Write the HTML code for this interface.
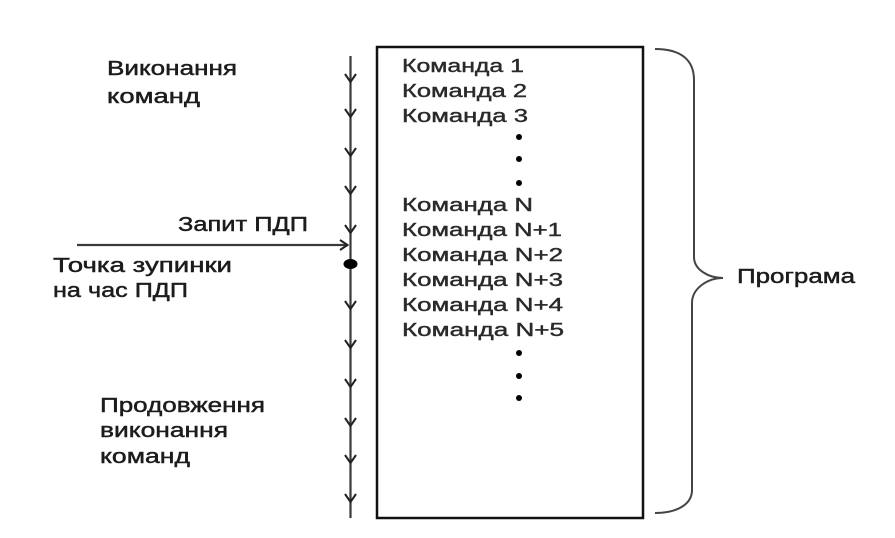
<!DOCTYPE html>
<html>
<head>
<meta charset="utf-8">
<style>
  html, body { margin: 0; padding: 0; background: #fff; }
  svg { display: block; }
  .lbl { font-family: "Liberation Sans", "DejaVu Sans", sans-serif; font-size: 20px; fill: #1c1c1c; stroke: #1c1c1c; stroke-width: 0.45; }
  .cmd { font-family: "Liberation Sans", "DejaVu Sans", sans-serif; font-size: 18px; fill: #2a2a2a; stroke: #2a2a2a; stroke-width: 0.4; }
</style>
</head>
<body>
<svg width="895" height="538" viewBox="0 0 895 538" xmlns="http://www.w3.org/2000/svg">
  <rect x="0" y="0" width="895" height="538" fill="#fff"/>

  <!-- vertical execution line -->
  <line x1="350.5" y1="56" x2="350.5" y2="518" stroke="#3a3a3a" stroke-width="2.2"/>
  <g fill="none" stroke="#222" stroke-width="2" stroke-linejoin="miter">
    <polyline points="345,74 350.5,82 356,74"/>
    <polyline points="345,109 350.5,117 356,109"/>
    <polyline points="345,148 350.5,156 356,148"/>
    <polyline points="345,186 350.5,194 356,186"/>
    <polyline points="345,225 350.5,233 356,225"/>
    <polyline points="345,301 350.5,309 356,301"/>
    <polyline points="345,340 350.5,348 356,340"/>
    <polyline points="345,379 350.5,387 356,379"/>
    <polyline points="345,418 350.5,426 356,418"/>
    <polyline points="345,455 350.5,463 356,455"/>
    <polyline points="345,494 350.5,502 356,494"/>
  </g>

  <!-- DMA request arrow -->
  <line x1="77" y1="245" x2="347" y2="245" stroke="#3a3a3a" stroke-width="2.2"/>
  <polyline points="340,240 347.5,245 340,250" fill="none" stroke="#222" stroke-width="2"/>

  <!-- stop point -->
  <ellipse cx="350.5" cy="264" rx="7" ry="5" fill="#000"/>

  <!-- program box -->
  <rect x="377" y="47" width="266" height="471" fill="none" stroke="#111" stroke-width="2.5"/>

  <!-- commands -->
  <text class="cmd" x="402" y="72" textLength="122" lengthAdjust="spacingAndGlyphs">Команда 1</text>
  <text class="cmd" x="402" y="97" textLength="125" lengthAdjust="spacingAndGlyphs">Команда 2</text>
  <text class="cmd" x="402" y="122" textLength="126" lengthAdjust="spacingAndGlyphs">Команда 3</text>
  <circle cx="519" cy="137" r="3" fill="#000"/>
  <circle cx="519" cy="159" r="3" fill="#000"/>
  <circle cx="519" cy="183" r="3" fill="#000"/>
  <text class="cmd" x="402" y="211" textLength="131" lengthAdjust="spacingAndGlyphs">Команда N</text>
  <text class="cmd" x="402" y="236" textLength="160" lengthAdjust="spacingAndGlyphs">Команда N+1</text>
  <text class="cmd" x="402" y="261" textLength="161" lengthAdjust="spacingAndGlyphs">Команда N+2</text>
  <text class="cmd" x="402" y="286" textLength="161" lengthAdjust="spacingAndGlyphs">Команда N+3</text>
  <text class="cmd" x="402" y="311" textLength="161" lengthAdjust="spacingAndGlyphs">Команда N+4</text>
  <text class="cmd" x="402" y="336" textLength="162" lengthAdjust="spacingAndGlyphs">Команда N+5</text>
  <circle cx="519" cy="353" r="3" fill="#000"/>
  <circle cx="519" cy="376" r="3" fill="#000"/>
  <circle cx="519" cy="398" r="3" fill="#000"/>

  <!-- brace -->
  <path d="M655,49 C681,49 694,60 694,80 L694,257 C694,270 709,278 723,278 C708,278 692,288 692,303 L692,490 C692,505 676,513 655,513"
        fill="none" stroke="#444" stroke-width="2"/>
  <text class="lbl" x="737" y="283" textLength="118" lengthAdjust="spacingAndGlyphs">Програма</text>

  <!-- left labels -->
  <text class="lbl" x="107" y="75" textLength="130" lengthAdjust="spacingAndGlyphs">Виконання</text>
  <text class="lbl" x="107" y="103" textLength="93" lengthAdjust="spacingAndGlyphs">команд</text>

  <text class="lbl" x="178" y="231" textLength="130" lengthAdjust="spacingAndGlyphs">Запит ПДП</text>
  <text class="lbl" x="53" y="272" textLength="179" lengthAdjust="spacingAndGlyphs">Точка зупинки</text>
  <text class="lbl" x="53" y="297" textLength="135" lengthAdjust="spacingAndGlyphs">на час ПДП</text>

  <text class="lbl" x="100" y="412" textLength="165" lengthAdjust="spacingAndGlyphs">Продовження</text>
  <text class="lbl" x="100" y="437" textLength="128" lengthAdjust="spacingAndGlyphs">виконання</text>
  <text class="lbl" x="100" y="463" textLength="90" lengthAdjust="spacingAndGlyphs">команд</text>
</svg>
</body>
</html>
